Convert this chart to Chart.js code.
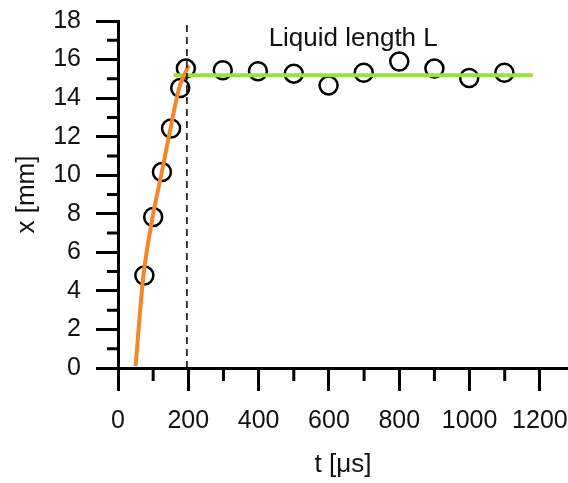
<!DOCTYPE html>
<html>
<head>
<meta charset="utf-8">
<script src="https://cdn.jsdelivr.net/npm/chart.js@4"></script>
<style>
  html, body { margin: 0; padding: 0; background: #ffffff; }
  #wrap { width: 568px; height: 483px; }
</style>
</head>
<body>
<div id="wrap"><canvas id="chart" width="568" height="483"></canvas></div>
<script>
// measured points (t in μs, x in mm)
const tMeasured = [75, 100, 125, 151, 177, 193, 298, 398, 500, 599, 699, 800, 900, 999, 1099];
const xMeasured = [4.8, 7.83, 10.17, 12.42, 14.52, 15.53, 15.44, 15.39, 15.27, 14.66, 15.32, 15.9, 15.53, 15.04, 15.32];

// orange growth curve
const tGrowth = [50, 73, 98, 125, 149, 175, 201];
const xGrowth = [0.1, 4.9, 7.8, 10.2, 12.4, 14.6, 15.7];

// green plateau (liquid length)
const tPlateau = [158, 1180];
const xPlateau = [15.18, 15.18];

// dashed marker at end of growth
const tMarker = [196, 196];
const xMarker = [0, 18];

const annotationText = 'Liquid length L';
const annotationAt = [669, 16.7];

const xMinorTicks = [100, 300, 500, 700, 900, 1100];
const yMinorTicks = [1, 3, 5, 7, 9, 11, 13, 15, 17];

const FONT = 'Arial, "Liberation Sans", sans-serif';

function pairs(xs, ys) {
    return xs.map((v, i) => ({ x: v, y: ys[i] }));
}

// minor ticks + annotation text
const extras = {
    id: 'extras',
    afterDraw(chart) {
        const ctx = chart.ctx;
        const xs = chart.scales.x;
        const ys = chart.scales.y;
        const left = chart.chartArea.left;
        const bottom = chart.chartArea.bottom;
        ctx.save();
        ctx.strokeStyle = '#000';
        ctx.lineWidth = 3;
        ctx.beginPath();
        xMinorTicks.forEach(v => {
            const px = xs.getPixelForValue(v);
            ctx.moveTo(px, bottom);
            ctx.lineTo(px, bottom + 13);
        });
        yMinorTicks.forEach(v => {
            const py = ys.getPixelForValue(v);
            ctx.moveTo(left, py);
            ctx.lineTo(left - 11, py);
        });
        ctx.stroke();

        ctx.fillStyle = '#111';
        ctx.font = '26px ' + FONT;
        ctx.textAlign = 'center';
        ctx.textBaseline = 'alphabetic';
        ctx.fillText(annotationText, xs.getPixelForValue(annotationAt[0]), ys.getPixelForValue(annotationAt[1]));
        ctx.restore();
    }
};

new Chart(document.getElementById('chart'), {
    type: 'scatter',
    data: {
        datasets: [
            {
                label: 'marker',
                data: pairs(tMarker, xMarker),
                showLine: true,
                borderColor: '#000',
                borderWidth: 1.5,
                borderDash: [7, 5],
                pointRadius: 0
            },
            {
                label: 'growth',
                data: pairs(tGrowth, xGrowth),
                showLine: true,
                borderColor: '#f5872a',
                borderWidth: 4,
                tension: 0.3,
                pointRadius: 0
            },
            {
                label: 'plateau',
                data: pairs(tPlateau, xPlateau),
                showLine: true,
                borderColor: '#9be236',
                borderWidth: 4,
                pointRadius: 0
            },
            {
                label: 'measured',
                data: pairs(tMeasured, xMeasured),
                showLine: false,
                pointStyle: 'circle',
                pointRadius: 9,
                pointBorderWidth: 2.5,
                pointBorderColor: '#000',
                pointBackgroundColor: 'rgba(0,0,0,0)'
            }
        ]
    },
    options: {
        responsive: false,
        devicePixelRatio: 1,
        animation: false,
        layout: { autoPadding: false, padding: { top: 21, right: 0, left: 0, bottom: 0 } },
        plugins: {
            legend: { display: false },
            tooltip: { enabled: false }
        },
        scales: {
            x: {
                type: 'linear',
                min: 0,
                max: 1280,
                afterFit: (s) => { s.height = 115; s.paddingLeft = 0; s.paddingRight = 0; },
                border: { display: true, color: '#000', width: 3 },
                grid: { drawOnChartArea: false, drawTicks: true, tickLength: 23, tickWidth: 3, tickColor: '#000' },
                ticks: {
                    stepSize: 200,
                    includeBounds: false,
                    padding: 15,
                    color: '#111',
                    font: { size: 25, family: FONT },
                    maxRotation: 0,
                    callback: (v) => String(v)
                },
                title: {
                    display: true,
                    text: 't [μs]',
                    color: '#111',
                    font: { size: 26, family: FONT },
                    padding: { top: 0, bottom: 3 }
                }
            },
            y: {
                type: 'linear',
                min: 0,
                max: 18,
                afterFit: (s) => { s.width = 118; s.paddingTop = 0; s.paddingBottom = 0; },
                border: { display: true, color: '#000', width: 3 },
                grid: { drawOnChartArea: false, drawTicks: true, tickLength: 22, tickWidth: 3, tickColor: '#000' },
                ticks: {
                    stepSize: 2,
                    padding: 15,
                    color: '#111',
                    font: { size: 25, family: FONT },
                    callback: (v) => String(v)
                },
                title: {
                    display: true,
                    text: 'x [mm]',
                    color: '#111',
                    font: { size: 26, family: FONT },
                    padding: { top: 11, bottom: 0 }
                }
            }
        }
    },
    plugins: [extras]
});
</script>
</body>
</html>
